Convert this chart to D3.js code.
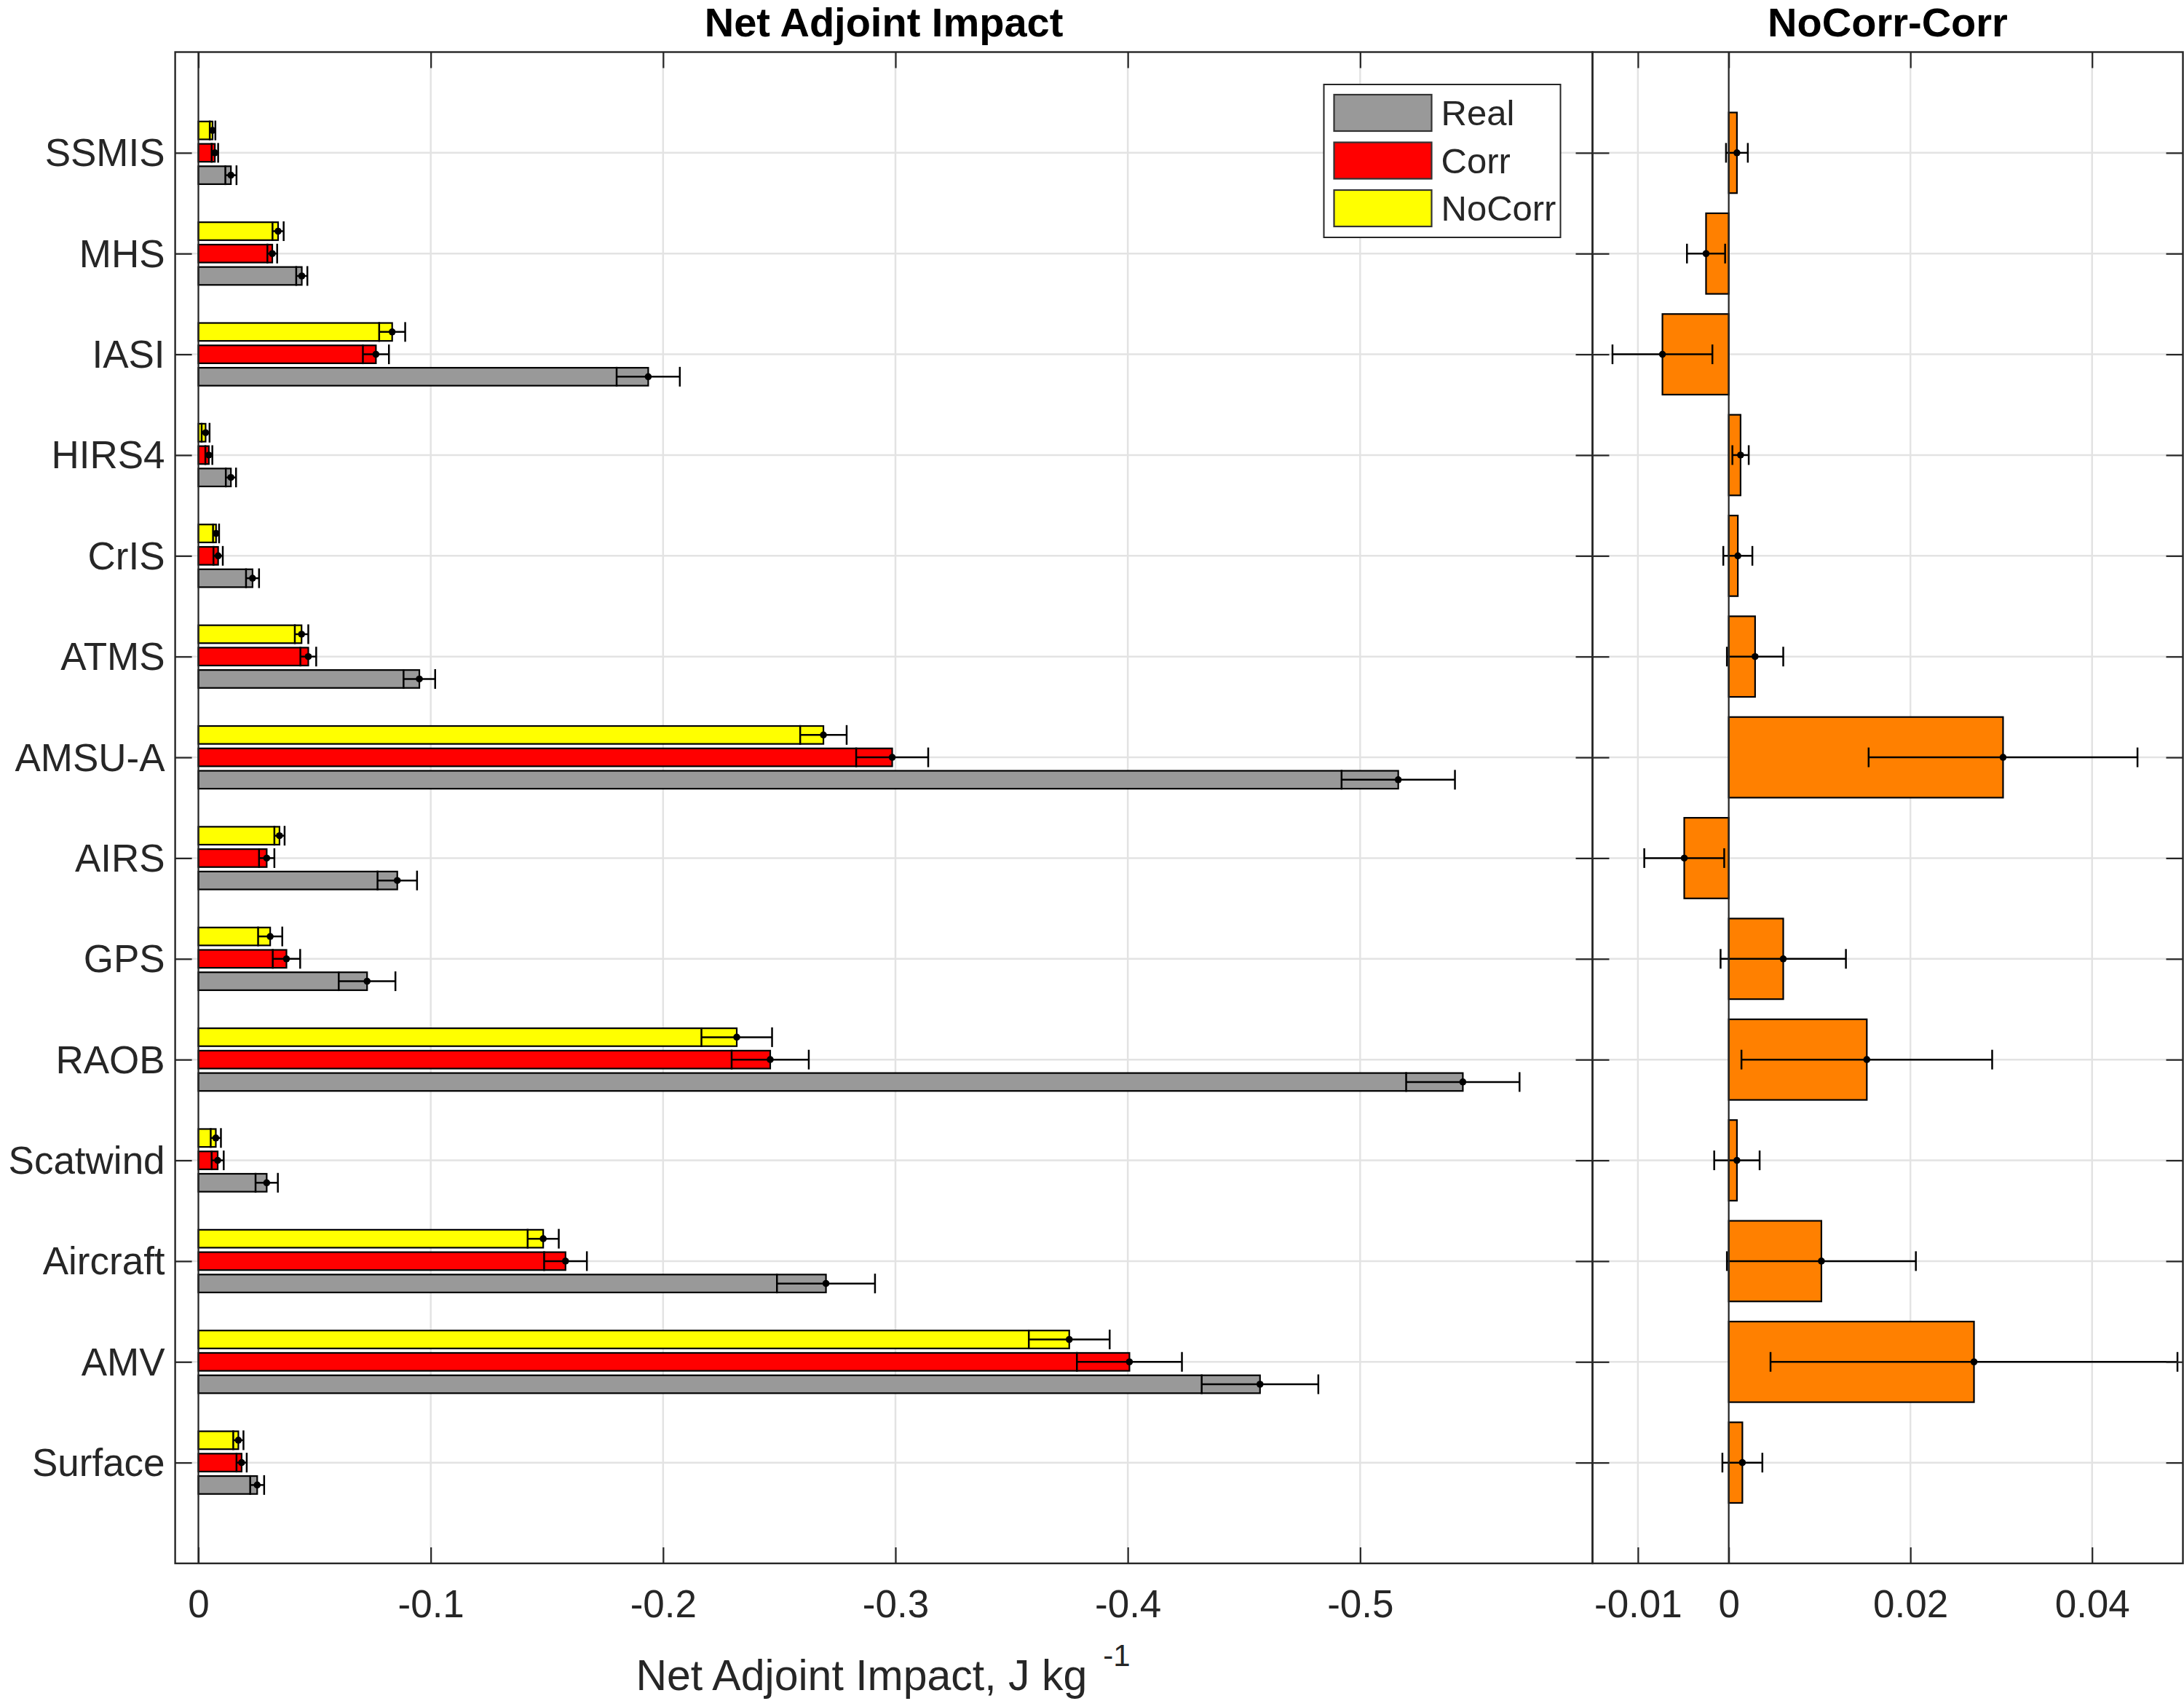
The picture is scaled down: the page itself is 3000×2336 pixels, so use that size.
<!DOCTYPE html>
<html>
<head>
<meta charset="utf-8">
<script src="https://cdn.jsdelivr.net/npm/d3@7"></script>
<style>
  body { margin: 0; background: #fff; }
  text { font-family: "Liberation Sans", Arial, Helvetica, sans-serif; }
</style>
</head>
<body>
<svg id="chart"></svg>
<script>
// Net adjoint impact per observation type, three experiments + NoCorr-Corr difference

const categories = ['SSMIS', 'MHS', 'IASI', 'HIRS4', 'CrIS', 'ATMS', 'AMSU-A', 'AIRS',
  'GPS', 'RAOB', 'Scatwind', 'Aircraft', 'AMV', 'Surface'];

const realVals = [-0.0140, -0.0445, -0.1936, -0.0140, -0.0233, -0.0951, -0.5164, -0.0856,
  -0.0726, -0.5442, -0.0294, -0.2701, -0.4569, -0.0253];
const realErr = [0.0024, 0.0024, 0.0136, 0.0022, 0.0028, 0.0068, 0.0244, 0.0085,
  0.0122, 0.0244, 0.0048, 0.0211, 0.0251, 0.0030];

const corrVals = [-0.0071, -0.0318, -0.0764, -0.0045, -0.0085, -0.0473, -0.2986, -0.0294,
  -0.0379, -0.2461, -0.0083, -0.1580, -0.4007, -0.0186];
const corrErr = [0.0014, 0.0021, 0.0056, 0.0015, 0.0020, 0.0034, 0.0155, 0.0033,
  0.0059, 0.0166, 0.0026, 0.0092, 0.0226, 0.0022];

const noCorrVals = [-0.0061, -0.0343, -0.0834, -0.0031, -0.0076, -0.0444, -0.2690, -0.0349,
  -0.0309, -0.2317, -0.0075, -0.1484, -0.3748, -0.0172];
const noCorrErr = [0.0012, 0.0024, 0.0056, 0.0017, 0.0013, 0.0029, 0.0100, 0.0022,
  0.0052, 0.0152, 0.0022, 0.0067, 0.0174, 0.0022];

const diffVals = [0.0009, -0.0025, -0.0073, 0.0013, 0.0010, 0.0029, 0.0302, -0.0049,
  0.0060, 0.0152, 0.0009, 0.0102, 0.0270, 0.0015];
const diffErr = [0.0012, 0.0021, 0.0055, 0.0009, 0.0016, 0.0031, 0.0148, 0.0044,
  0.0069, 0.0138, 0.0025, 0.0104, 0.0224, 0.0022];

const leftTicks = [0, -0.1, -0.2, -0.3, -0.4, -0.5];
const rightTicks = [-0.01, 0, 0.02, 0.04];

// series drawn top to bottom inside each group
const series = [
  { name: 'NoCorr', vals: noCorrVals, err: noCorrErr, color: '#ffff00', off: -2 / 9 },
  { name: 'Corr', vals: corrVals, err: corrErr, color: '#ff0000', off: 0 },
  { name: 'Real', vals: realVals, err: realErr, color: '#999999', off: 2 / 9 }
];
const legendOrder = ['Real', 'Corr', 'NoCorr'];

const W = 3000, H = 2336;
const plotTop = 71.5, plotBottom = 2147;
const ink = '#262626';

const svg = d3.select('#chart').attr('width', W).attr('height', H);
svg.append('rect').attr('width', W).attr('height', H).attr('fill', '#fff');

const y = d3.scaleLinear().domain([0, 15]).range([plotTop, plotBottom]);
const xL = d3.scaleLinear().domain([0.01, -0.6]).range([240.6, 2187.5]);
const xR = d3.scaleLinear().domain([-0.015, 0.05]).range([2187.5, 2998.5]);
const catPos = categories.map((c, i) => i + 1);
const unit = y(1) - y(0);
const capHalf = 13.5;

function drawGrid(g, x, ticks) {
  const [x0, x1] = x.range();
  g.append('g').selectAll('line').data(ticks).join('line')
    .attr('x1', d => x(d)).attr('x2', d => x(d))
    .attr('y1', plotTop).attr('y2', plotBottom)
    .attr('stroke', '#e3e3e3').attr('stroke-width', 2.5);
  g.append('g').selectAll('line').data(catPos).join('line')
    .attr('x1', x0).attr('x2', x1)
    .attr('y1', d => y(d)).attr('y2', d => y(d))
    .attr('stroke', '#e3e3e3').attr('stroke-width', 2.5);
}

function drawErrors(g, x, vals, errs, yc) {
  const eb = g.append('g').selectAll('g').data(vals).join('g');
  eb.append('line')
    .attr('x1', (d, i) => x(d - errs[i])).attr('x2', (d, i) => x(d + errs[i]))
    .attr('y1', (d, i) => yc(i)).attr('y2', (d, i) => yc(i))
    .attr('stroke', '#000').attr('stroke-width', 2.5);
  [-1, 1].forEach(sgn => {
    eb.append('line')
      .attr('x1', (d, i) => x(d + sgn * errs[i])).attr('x2', (d, i) => x(d + sgn * errs[i]))
      .attr('y1', (d, i) => yc(i) - capHalf).attr('y2', (d, i) => yc(i) + capHalf)
      .attr('stroke', '#000').attr('stroke-width', 2.5);
  });
  eb.append('circle')
    .attr('cx', d => x(d)).attr('cy', (d, i) => yc(i)).attr('r', 4.8)
    .attr('fill', '#000');
}

function drawFrame(g, x, ticks, withLabels) {
  const [x0, x1] = x.range();
  const fmt = d => String(d);
  g.append('g').attr('transform', `translate(0,${plotBottom})`)
    .call(d3.axisBottom(x).tickValues(ticks).tickSize(-22).tickPadding(36).tickFormat(fmt));
  g.append('g').attr('transform', `translate(0,${plotTop})`)
    .call(d3.axisTop(x).tickValues(ticks).tickSize(-22).tickFormat(''));
  const leftAxis = g.append('g').attr('transform', `translate(${x0},0)`)
    .call(d3.axisLeft(y).tickValues(catPos).tickSize(-23).tickPadding(14)
      .tickFormat(withLabels ? (d => categories[d - 1]) : ''));
  g.append('g').attr('transform', `translate(${x1},0)`)
    .call(d3.axisRight(y).tickValues(catPos).tickSize(-23).tickFormat(''));

  g.selectAll('.domain').remove();
  g.selectAll('.tick line').attr('stroke', ink).attr('stroke-width', 2.2);
  g.selectAll('.tick text').attr('fill', ink).attr('font-size', 53)
    .attr('font-family', '"Liberation Sans", Arial, sans-serif');
  leftAxis.selectAll('.tick text').attr('dy', '0.34em');

  // zero baseline
  g.append('line').attr('x1', x(0)).attr('x2', x(0))
    .attr('y1', plotTop).attr('y2', plotBottom)
    .attr('stroke', ink).attr('stroke-width', 2.2);

  g.append('rect').attr('x', x0).attr('y', plotTop)
    .attr('width', x1 - x0).attr('height', plotBottom - plotTop)
    .attr('fill', 'none').attr('stroke', ink).attr('stroke-width', 2.4);
}

// ---- left panel: grouped bars ----
const gL = svg.append('g');
drawGrid(gL, xL, leftTicks);

const barH = unit * (2 / 9) * 0.8; // each bar 0.178 units tall
series.forEach(s => {
  const yc = i => y(i + 1 + s.off);
  gL.append('g').selectAll('rect').data(s.vals).join('rect')
    .attr('x', d => Math.min(xL(0), xL(d)))
    .attr('width', d => Math.abs(xL(d) - xL(0)))
    .attr('y', (d, i) => yc(i) - barH / 2)
    .attr('height', barH)
    .attr('fill', s.color).attr('stroke', '#000').attr('stroke-width', 2.2);
  drawErrors(gL, xL, s.vals, s.err, yc);
});
drawFrame(gL, xL, leftTicks, true);

// ---- right panel: difference ----
const gR = svg.append('g');
drawGrid(gR, xR, rightTicks);
const diffH = unit * 0.8;
gR.append('g').selectAll('rect').data(diffVals).join('rect')
  .attr('x', d => Math.min(xR(0), xR(d)))
  .attr('width', d => Math.abs(xR(d) - xR(0)))
  .attr('y', (d, i) => y(i + 1) - diffH / 2)
  .attr('height', diffH)
  .attr('fill', '#ff8000').attr('stroke', '#000').attr('stroke-width', 2.2);
drawErrors(gR, xR, diffVals, diffErr, i => y(i + 1));
drawFrame(gR, xR, rightTicks, false);

// ---- titles and axis label ----
svg.append('text').attr('x', d3.mean(xL.range())).attr('y', 50)
  .attr('text-anchor', 'middle').attr('font-size', 56).attr('font-weight', 'bold')
  .attr('fill', '#000').text('Net Adjoint Impact');
svg.append('text').attr('x', d3.mean(xR.range())).attr('y', 50)
  .attr('text-anchor', 'middle').attr('font-size', 56).attr('font-weight', 'bold')
  .attr('fill', '#000').text('NoCorr-Corr');

const xlab = svg.append('text').attr('x', 1213).attr('y', 2321)
  .attr('text-anchor', 'middle').attr('font-size', 59).attr('fill', ink);
xlab.append('tspan').text('Net Adjoint Impact, J kg');
xlab.append('tspan').attr('dx', 22).attr('dy', -33).attr('font-size', 42).text('-1');

// ---- legend ----
const lg = svg.append('g').attr('transform', 'translate(1818.5,116)');
lg.append('rect').attr('width', 325).attr('height', 210)
  .attr('fill', '#fff').attr('stroke', ink).attr('stroke-width', 2);
legendOrder.forEach((name, k) => {
  const s = series.find(d => d.name === name);
  const cy = 39 + k * 65.5;
  lg.append('rect').attr('x', 14).attr('y', cy - 25).attr('width', 134).attr('height', 50)
    .attr('fill', s.color).attr('stroke', '#333').attr('stroke-width', 2.2);
  lg.append('text').attr('x', 161).attr('y', cy).attr('dy', '0.35em')
    .attr('font-size', 49).attr('fill', ink).text(name);
});
</script>
</body>
</html>
